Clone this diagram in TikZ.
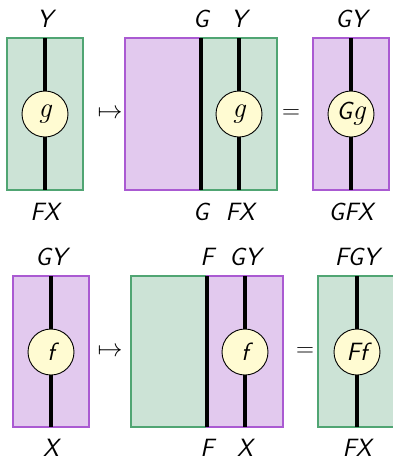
\documentclass[tikz,border=0pt]{standalone}
\usepackage{fontspec}
\definecolor{gfill}{RGB}{204,227,214}
\definecolor{gline}{RGB}{80,165,115}
\definecolor{pfill}{RGB}{226,201,238}
\definecolor{pline}{RGB}{170,90,210}
\definecolor{yfill}{RGB}{255,251,210}
\newcommand{\labfont}{\fontsize{25}{28}\selectfont\sffamily\itshape}
\newcommand{\gletter}{{\fontsize{29}{30}\selectfont\rmfamily\itshape g}}
\tikzset{
  gbox/.style={fill=gfill,draw=gline,line width=1.1pt},
  pbox/.style={fill=pfill,draw=pline,line width=1.1pt},
  wire/.style={line width=3.2pt,black},
  morph/.style={circle,draw=black,line width=0.9pt,fill=yfill,minimum size=46pt,inner sep=0pt,font=\labfont},
  lab/.style={font=\labfont,inner sep=0pt},
  sym/.style={font=\fontsize{24}{28}\selectfont,inner sep=0pt}
}
\begin{document}
\begin{tikzpicture}[x=1pt,y=-1pt]
\useasboundingbox (0,0) rectangle (392,456);
% ---------- top row ----------
% box 1
\path[gbox] (7,38) rectangle (83,190);
\coordinate (t1) at (45,38); \coordinate (b1) at (45,190);
\draw[wire] (t1) -- (b1);
\node[morph] (g1) at (45,114) {\gletter};
\node[lab] (l1t) at (45,19) {Y};
\node[lab] (l1b) at (45,212) {FX};
\node[sym] (m1) at (110,114) {$\mapsto$};
% box 2
\path[pbox] (125,38) rectangle (201,190);
\path[gbox] (201,38) rectangle (277,190);
\coordinate (t2a) at (201,38); \coordinate (b2a) at (201,190);
\coordinate (t2) at (239,38); \coordinate (b2) at (239,190);
\draw[wire] (t2a) -- (b2a);
\draw[wire] (t2) -- (b2);
\node[morph] (g2) at (239,114) {\gletter};
\node[lab] (l2ta) at (201,19) {G};
\node[lab] (l2t) at (239,19) {Y};
\node[lab] (l2ba) at (201,212) {G};
\node[lab] (l2b) at (240,212) {FX};
\node[sym] (e1) at (291,114) {$=$};
% box 3
\path[pbox] (313,38) rectangle (389,190);
\coordinate (t3) at (351,38); \coordinate (b3) at (351,190);
\draw[wire] (t3) -- (b3);
\node[morph] (g3) at (351,114) {G\gletter};
\node[lab] (l3t) at (351,19) {GY};
\node[lab] (l3b) at (351,212) {GFX};
% ---------- bottom row ----------
% box 4
\path[pbox] (13,276) rectangle (89,427);
\coordinate (t4) at (51,276); \coordinate (b4) at (51,427);
\draw[wire] (t4) -- (b4);
\node[morph] (f4) at (51,352) {f};
\node[lab] (l4t) at (51,257) {GY};
\node[lab] (l4b) at (51,448) {X};
\node[sym] (m2) at (110,352) {$\mapsto$};
% box 5
\path[gbox] (131,276) rectangle (207,427);
\path[pbox] (207,276) rectangle (283,427);
\coordinate (t5a) at (207,276); \coordinate (b5a) at (207,427);
\coordinate (t5) at (245,276); \coordinate (b5) at (245,427);
\draw[wire] (t5a) -- (b5a);
\draw[wire] (t5) -- (b5);
\node[morph] (f5) at (245,352) {f};
\node[lab] (l5ta) at (207,257) {F};
\node[lab] (l5t) at (245,257) {GY};
\node[lab] (l5ba) at (207,448) {F};
\node[lab] (l5b) at (245,448) {X};
\node[sym] (e2) at (305,352) {$=$};
% box 6
\path[gbox] (318,276) rectangle (394,427);
\coordinate (t6) at (357,276); \coordinate (b6) at (357,427);
\draw[wire] (t6) -- (b6);
\node[morph] (f6) at (357,352) {Ff};
\node[lab] (l6t) at (357,257) {FGY};
\node[lab] (l6b) at (357,448) {FX};
\end{tikzpicture}
\end{document}
